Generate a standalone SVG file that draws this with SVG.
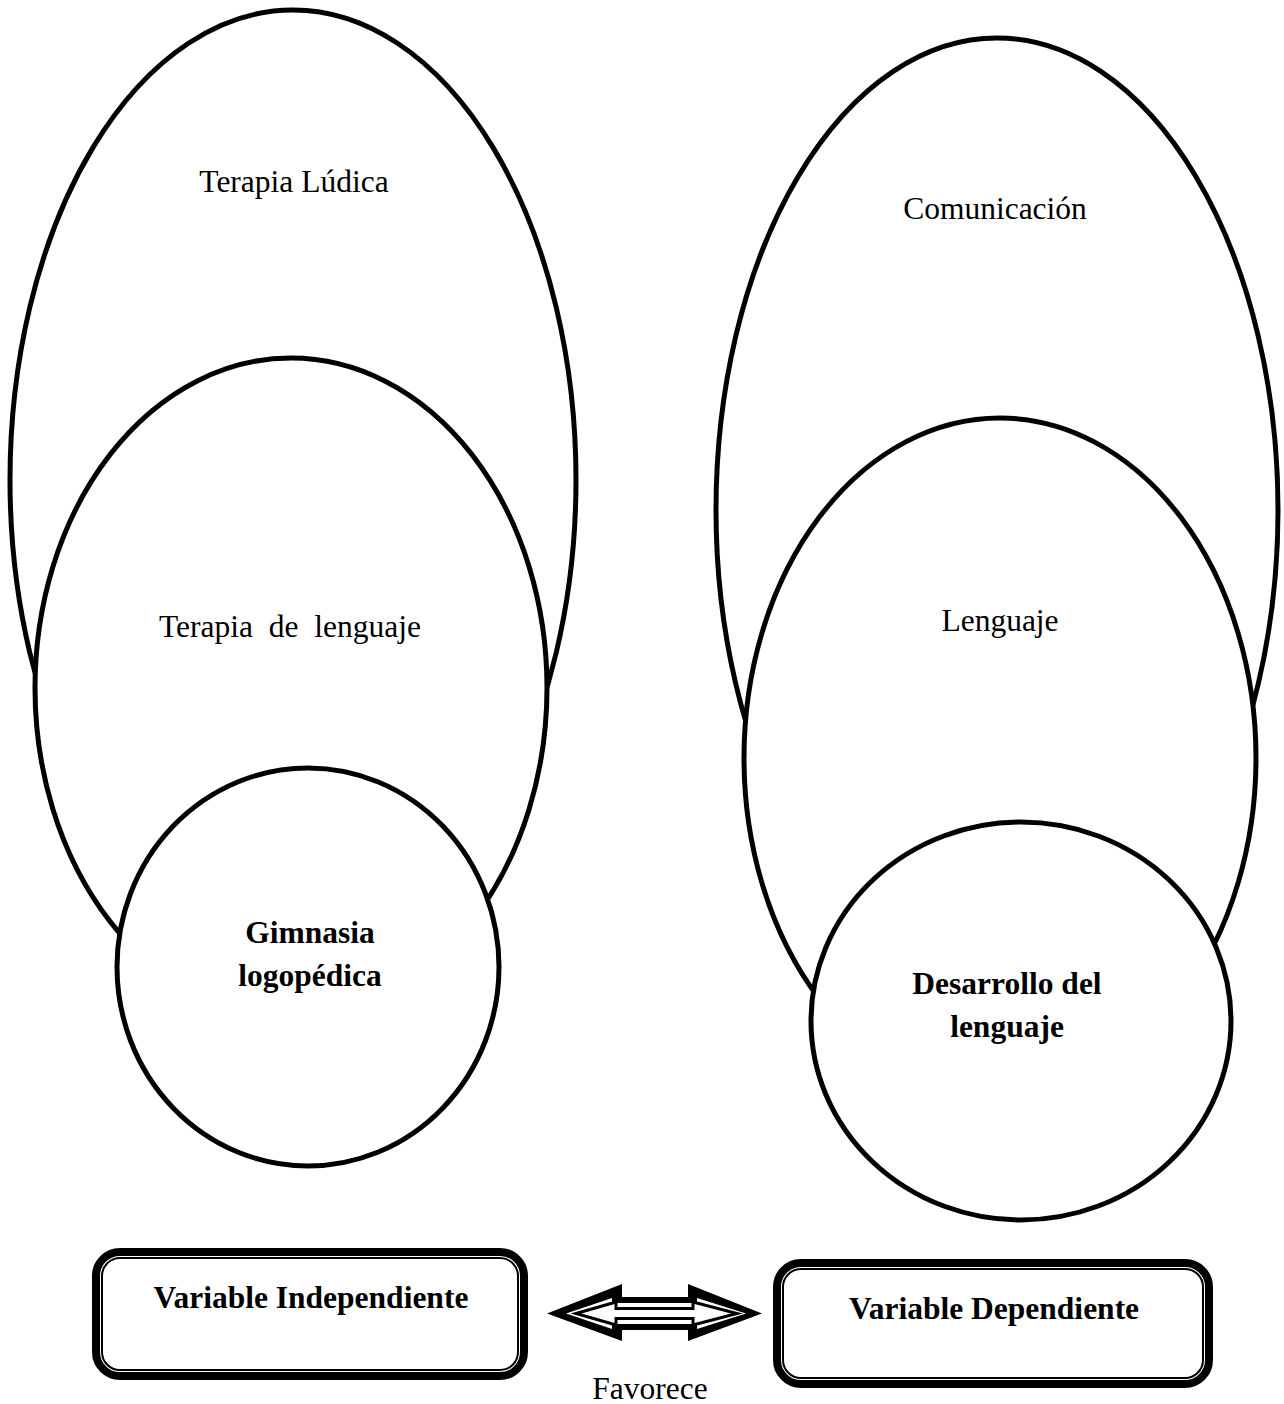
<svg xmlns="http://www.w3.org/2000/svg" width="1284" height="1404" viewBox="0 0 1284 1404">
<style>
.e{fill:#fff;stroke:#000;stroke-width:5}
.t{font-family:"Liberation Serif","Times New Roman",serif;font-size:31.5px;fill:#000;text-anchor:middle}
.b{font-weight:bold}
.bo{fill:none;stroke:#000;stroke-width:8}
.bi{fill:none;stroke:#000;stroke-width:2}
</style>
<rect width="1284" height="1404" fill="#fff"/>
<g id="terapia-ludica">
<ellipse class="e" cx="293" cy="480" rx="283" ry="470"/>
<text class="t" x="294" y="192">Terapia Lúdica</text>
</g>
<g id="terapia-lenguaje">
<ellipse class="e" cx="291" cy="688" rx="256" ry="330"/>
<text class="t" x="290" y="637" xml:space="preserve">Terapia  de  lenguaje</text>
</g>
<g id="gimnasia">
<ellipse class="e" cx="308" cy="967" rx="191" ry="199"/>
<text class="t b" x="310" y="943">Gimnasia</text>
<text class="t b" x="310" y="986">logopédica</text>
</g>
<g id="comunicacion">
<ellipse class="e" cx="997" cy="510" rx="281" ry="472"/>
<text class="t" x="995" y="219">Comunicación</text>
</g>
<g id="lenguaje">
<ellipse class="e" cx="1000" cy="758" rx="256" ry="340"/>
<text class="t" x="1000" y="631">Lenguaje</text>
</g>
<g id="desarrollo">
<ellipse class="e" cx="1021" cy="1021" rx="210" ry="199"/>
<text class="t b" x="1007" y="994">Desarrollo del</text>
<text class="t b" x="1007" y="1037">lenguaje</text>
</g>
<g id="variable-independiente">
<rect class="bo" x="96" y="1252" width="428" height="124" rx="24"/>
<rect class="bi" x="102" y="1258" width="416" height="112" rx="18"/>
<text class="t b" x="311" y="1308">Variable Independiente</text>
</g>
<g id="variable-dependiente">
<rect class="bo" x="777" y="1263" width="432" height="121" rx="24"/>
<rect class="bi" x="783" y="1269" width="420" height="109" rx="18"/>
<text class="t b" x="994" y="1319">Variable Dependiente</text>
</g>
<g id="connectors">
<polygon fill="#000" points="547,1313.5 622,1284 622,1297 688,1297 688,1284 762,1313.5 688,1341 688,1330 622,1330 622,1341"/>
<polygon fill="#fff" points="566,1313.5 612,1298 612,1303 697,1303 697,1298 746,1313.5 697,1329 697,1324 612,1324 612,1329"/>
<polygon fill="#fff" stroke="#000" stroke-width="3" stroke-linejoin="miter" points="576,1313.5 616,1302 616,1308.5 693,1308.5 693,1302 737,1313.5 693,1325 693,1318.5 616,1318.5 616,1325"/>
<text class="t" x="650" y="1399">Favorece</text>
</g>
</svg>
